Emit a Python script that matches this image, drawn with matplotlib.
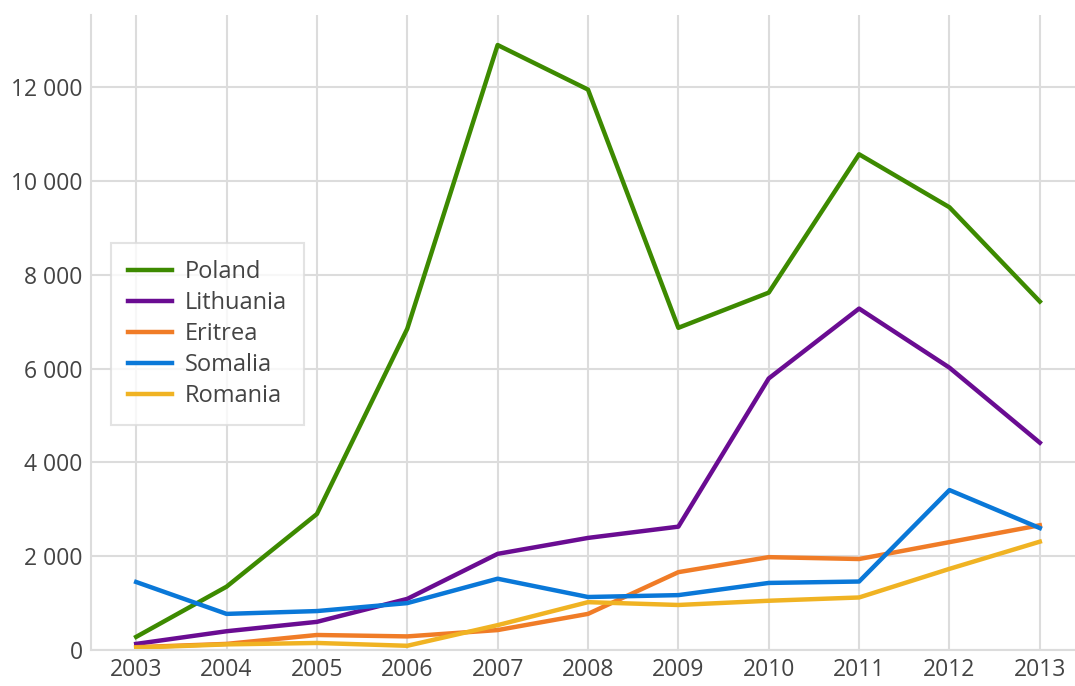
import numpy as np
import matplotlib.pyplot as plt
from matplotlib.ticker import FuncFormatter

years = [2003, 2004, 2005, 2006, 2007, 2008, 2009, 2010, 2011, 2012, 2013]

poland = [280, 1350, 2900, 6850, 12900, 11950, 6870, 7620, 10570, 9440, 7430]
lithuania = [130, 400, 600, 1090, 2050, 2390, 2630, 5790, 7280, 6020, 4420]
eritrea = [60, 130, 320, 290, 425, 770, 1660, 1980, 1940, 2300, 2660]
somalia = [1450, 770, 830, 1000, 1520, 1130, 1170, 1430, 1460, 3410, 2600]
romania = [50, 120, 150, 90, 530, 1020, 960, 1050, 1120, 1730, 2310]

names = ['Poland', 'Lithuania', 'Eritrea', 'Somalia', 'Romania']
colors = ['#3d8a00', '#6a0c92', '#f07c27', '#0a78d8', '#f0b323']

plt.rcParams['font.family'] = ['Open Sans', 'DejaVu Sans']

fig = plt.figure(figsize=(10.75, 6.86), dpi=100)
ax = fig.add_axes([91/1075, 1 - 650/686, 994/1075, 635/686])

for vals, name, c in zip([poland, lithuania, eritrea, somalia, romania], names, colors):
    ax.plot(years, vals, color=c, linewidth=3.2, label=name)

ax.set_xlim(2002.5, 2013.5)
ax.set_ylim(0, 13540)
ax.set_xticks(years)
ax.set_yticks(np.arange(0, 13000, 2000))
ax.yaxis.set_major_formatter(FuncFormatter(lambda v, p: f'{int(v):,}'.replace(',', ' ')))

ax.grid(True, color='#dcdcdc', linewidth=1.5)
ax.set_axisbelow(True)
for s in ['top', 'right']:
    ax.spines[s].set_visible(False)
for s in ['left', 'bottom']:
    ax.spines[s].set_color('#dcdcdc')
    ax.spines[s].set_linewidth(1.5)
ax.tick_params(length=0, labelsize=16.5, labelcolor='#444444', pad=6)

leg = ax.legend(loc='upper left', bbox_to_anchor=(20/994, 407/635), borderaxespad=0,
                fontsize=17, frameon=True, fancybox=False, edgecolor='#dcdcdc',
                borderpad=0.72, labelspacing=0.3, handlelength=1.85, handletextpad=0.55)
leg.get_frame().set_linewidth(1.5)
for t in leg.get_texts():
    t.set_color('#444444')

fig.savefig('out.png', dpi=100)
